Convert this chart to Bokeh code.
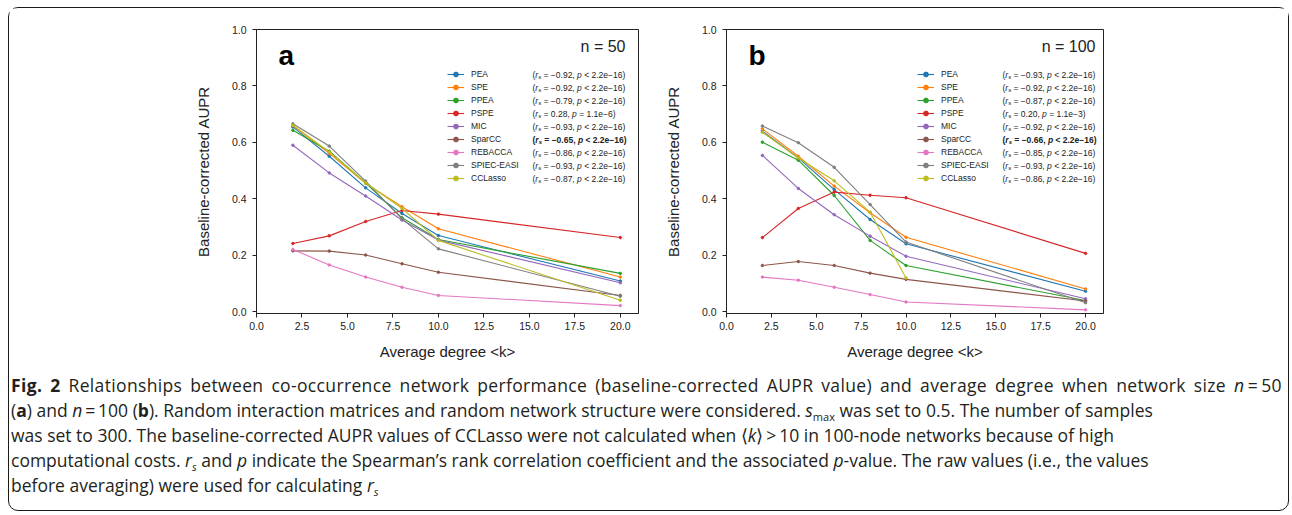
from bokeh.plotting import figure
from bokeh.models import Legend, LegendItem, Label, FixedTicker, PrintfTickFormatter, Div, Range1d
from bokeh.layouts import row, column
from bokeh.embed import file_html
from bokeh.resources import INLINE

# ---------------- data ----------------
degree = [2, 4, 6, 8, 10, 20]
methods = ["PEA", "SPE", "PPEA", "PSPE", "MIC", "SparCC", "REBACCA", "SPIEC-EASI", "CCLasso"]
colors = ["#1f77b4", "#ff7f0e", "#2ca02c", "#d62728", "#9467bd",
          "#8c564b", "#e377c2", "#7f7f7f", "#bcbd22"]

# n = 50
pea_50 = [0.655, 0.551, 0.439, 0.348, 0.270, 0.109]
spe_50 = [0.660, 0.561, 0.455, 0.372, 0.294, 0.123]
ppea_50 = [0.643, 0.569, 0.457, 0.333, 0.256, 0.136]
pspe_50 = [0.242, 0.269, 0.320, 0.359, 0.346, 0.263]
mic_50 = [0.590, 0.492, 0.410, 0.325, 0.254, 0.103]
sparcc_50 = [0.216, 0.215, 0.201, 0.170, 0.140, 0.058]
rebacca_50 = [0.221, 0.166, 0.123, 0.087, 0.058, 0.022]
spiec_50 = [0.666, 0.587, 0.463, 0.329, 0.223, 0.055]
cclasso_50 = [0.661, 0.566, 0.457, 0.366, 0.253, 0.041]

# n = 100 (CCLasso not computed for <k> > 10)
pea_100 = [0.640, 0.545, 0.433, 0.327, 0.241, 0.073]
spe_100 = [0.648, 0.551, 0.445, 0.351, 0.264, 0.081]
ppea_100 = [0.601, 0.537, 0.412, 0.253, 0.164, 0.040]
pspe_100 = [0.263, 0.366, 0.424, 0.413, 0.404, 0.207]
mic_100 = [0.554, 0.437, 0.344, 0.268, 0.197, 0.046]
sparcc_100 = [0.164, 0.178, 0.164, 0.137, 0.115, 0.038]
rebacca_100 = [0.123, 0.112, 0.087, 0.061, 0.035, 0.007]
spiec_100 = [0.658, 0.599, 0.512, 0.380, 0.247, 0.032]
cclasso_100 = [0.636, 0.545, 0.464, 0.353, 0.120]

# Spearman statistics shown in the legends
rs_50 = ["\u22120.92", "\u22120.92", "\u22120.79", "0.28", "\u22120.93", "\u22120.65", "\u22120.86", "\u22120.93", "\u22120.87"]
p_50 = ["< 2.2e\u221216"] * 3 + ["= 1.1e\u22126"] + ["< 2.2e\u221216"] * 5
rs_100 = ["\u22120.93", "\u22120.92", "\u22120.87", "0.20", "\u22120.92", "\u22120.66", "\u22120.85", "\u22120.93", "\u22120.86"]
p_100 = ["< 2.2e\u221216"] * 3 + ["= 1.1e\u22123"] + ["< 2.2e\u221216"] * 5
bold_row = "SparCC"

x_ticks = [0.0, 2.5, 5.0, 7.5, 10.0, 12.5, 15.0, 17.5, 20.0]
y_ticks = [0.0, 0.2, 0.4, 0.6, 0.8, 1.0]

series_50 = [pea_50, spe_50, ppea_50, pspe_50, mic_50, sparcc_50, rebacca_50, spiec_50, cclasso_50]
series_100 = [pea_100, spe_100, ppea_100, pspe_100, mic_100, sparcc_100, rebacca_100, spiec_100, cclasso_100]

# ---------------- styling helpers ----------------
FONT = "Liberation Sans"
INK = "#222222"
FRAME_W, FRAME_H = 382, 284
TOP, BOTTOM = 21, 52
NBSP = "\u00a0"

W_REG = {" ": 278, NBSP: 278, "(": 333, ")": 333, "r": 333, "s": 500, "p": 556, "=": 584, "\u2212": 584,
         ".": 278, ",": 278, "<": 584, "e": 556}
W_BOLD = {" ": 278, NBSP: 278, "(": 333, ")": 333, "r": 389, "s": 556, "p": 611, "=": 584, "\u2212": 584,
          ".": 278, ",": 278, "<": 584, "e": 556}


def text_width(s, size, bold=False):
    tbl = W_BOLD if bold else W_REG
    return sum(tbl.get(c, 556) for c in s) * size / 1000.0


def make_panel(series, rs, pv, letter, ntext, left, right):
    p = figure(width=left + FRAME_W + right, height=TOP + FRAME_H + BOTTOM,
               min_border_left=left, min_border_right=right, min_border_top=TOP, min_border_bottom=BOTTOM,
               x_range=Range1d(0, 21), y_range=Range1d(-0.006, 1.0),
               output_backend="svg", toolbar_location=None)
    p.grid.visible = False
    p.outline_line_color = INK
    p.outline_line_width = 1
    p.background_fill_color = "white"
    p.border_fill_color = "white"

    for ax in (p.xaxis[0], p.yaxis[0]):
        ax.axis_line_color = INK
        ax.major_tick_line_color = INK
        ax.major_tick_in = 0
        ax.major_tick_out = 4
        ax.minor_tick_line_color = None
        ax.major_label_text_font = FONT
        ax.major_label_text_font_size = "10.5px"
        ax.major_label_text_color = INK
        ax.axis_label_text_font = FONT
        ax.axis_label_text_font_size = "15px"
        ax.axis_label_text_font_style = "normal"
        ax.axis_label_text_color = INK
        ax.formatter = PrintfTickFormatter(format="%.1f")
    p.xaxis.ticker = FixedTicker(ticks=x_ticks)
    p.yaxis.ticker = FixedTicker(ticks=y_ticks)
    p.xaxis.axis_label = "Average degree <k>"
    p.yaxis.axis_label = "Baseline-corrected AUPR"
    p.xaxis.major_label_standoff = 4
    p.yaxis.major_label_standoff = 6
    p.xaxis.axis_label_standoff = 10
    p.yaxis.axis_label_standoff = 17

    items = []
    for name, col, ys in zip(methods, colors, series):
        xs = degree[:len(ys)]
        lr = p.line(xs, ys, line_color=col, line_width=1.1)
        sr = p.scatter(xs, ys, size=2.5, marker="circle", fill_color=col, line_color=col)
        items.append(LegendItem(label=name, renderers=[lr, sr]))

    pitch = 13
    row0 = 45  # px below frame top of first legend row centre
    lg = Legend(items=items, location=(191, FRAME_H - (row0 - 6) - (9 * 12 + 8)),
                label_text_font=FONT, label_text_font_size="8.5px", label_text_color=INK,
                label_height=12, glyph_height=12, glyph_width=17, spacing=1,
                padding=0, margin=0, label_standoff=7,
                border_line_alpha=0, background_fill_alpha=0)
    p.add_layout(lg)

    fs = 8.5
    for i, (name, r, pval) in enumerate(zip(methods, rs, pv)):
        bold = name == bold_row
        style_n = "bold" if bold else "normal"
        style_i = "bold italic" if bold else "italic"
        y = FRAME_H - row0 - pitch * i
        x = 276.0
        runs = [("(", style_n, fs, 0), ("r", style_i, fs, 0), ("s", style_i, 6.0, -2.5),
                (" = " + r + ", ", style_n, fs, 0), ("p", style_i, fs, 0),
                (" " + pval + ")", style_n, fs, 0)]
        for txt, st, sz, dy in runs:
            txt = txt.replace(" ", NBSP)
            p.add_layout(Label(x=x, y=y + dy, x_units="screen", y_units="screen", text=txt,
                               text_font=FONT, text_font_size=f"{sz}px", text_font_style=st,
                               text_color=INK, text_align="left", text_baseline="middle"))
            x += text_width(txt, sz, bold)

    p.add_layout(Label(x=22, y=FRAME_H - 26, x_units="screen", y_units="screen", text=letter,
                       text_font=FONT, text_font_size="28px", text_font_style="bold",
                       text_color="black", text_align="left", text_baseline="middle"))
    p.add_layout(Label(x=FRAME_W - 13, y=FRAME_H - 17, x_units="screen", y_units="screen", text=ntext,
                       text_font=FONT, text_font_size="16px", text_color=INK,
                       text_align="right", text_baseline="middle"))
    return p


pa = make_panel(series_50, rs_50, p_50, "a", "n = 50", 247, 23)
pb = make_panel(series_100, rs_100, p_100, "b", "n = 100", 60, 185)

SUB = '<span style="font-size:11px; position:relative; top:4px; line-height:0">'
cap_lines = [
    '<b>Fig. 2</b> Relationships between co-occurrence network performance (baseline-corrected AUPR value) '
    'and average degree when network size <i>n</i>&#8201;=&#8201;50',
    '(<b>a</b>) and <i>n</i>&#8201;=&#8201;100 (<b>b</b>). Random interaction matrices and random network '
    'structure were considered. <i>s</i>' + SUB + 'max</span> was set to 0.5. The number of samples',
    'was set to 300. The baseline-corrected AUPR values of CCLasso were not calculated when '
    '&#10216;<i>k</i>&#10217;&#8201;&gt;&#8201;10 in 100-node networks because of high',
    'computational costs. <i>r</i>' + SUB + '<i>s</i></span> and <i>p</i> indicate the '
    'Spearman\u2019s rank correlation coefficient and the associated <i>p</i>-value. The raw values (i.e., the values',
    'before averaging) were used for calculating <i>r</i>' + SUB + '<i>s</i></span>',
]
line_style = "height:25px; line-height:25px; white-space:nowrap;"
first_style = line_style + (" width:1271px; letter-spacing:0.35px; text-align:justify;"
                            " text-align-last:justify;")
caption_html = (
    '<div style="font-family: \'Open Sans\'; font-size: 17.5px; color: #231f20;">'
    + ''.join('<div style="%s">%s</div>' % (first_style if i == 0 else line_style, t)
              for i, t in enumerate(cap_lines))
    + '</div>'
)
cap = Div(text=caption_html, width=1276, height=137, margin=(8, 0, 0, 2))

layout = column(row(pa, pb), cap, margin=(7, 0, 0, 8),
                styles={"border": "1.5px solid #1a1a1a", "border-radius": "10px",
                        "background-color": "white"})

open("out.html", "w").write(file_html(layout, INLINE))
